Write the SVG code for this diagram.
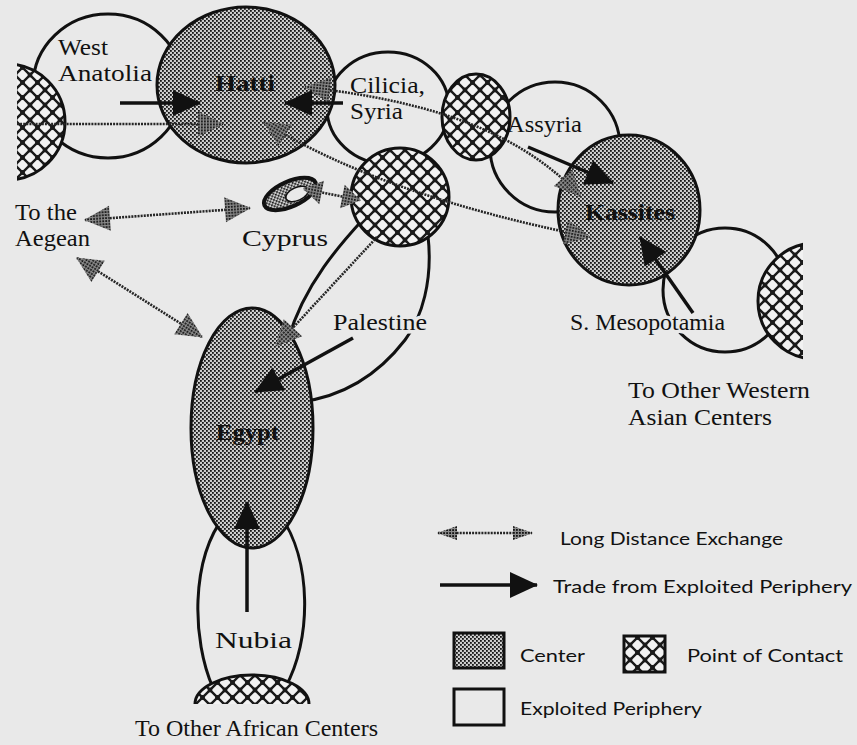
<svg xmlns="http://www.w3.org/2000/svg" width="857" height="745" viewBox="0 0 857 745">
<defs>
<style>
.per{fill:#e9e9e9;stroke:#111;stroke-width:3}
.ctr{fill:url(#stip);stroke:#111;stroke-width:3}
.con{fill:url(#hatch);stroke:#111;stroke-width:3}
.lbl{font-family:"Liberation Serif","DejaVu Serif",serif;font-size:23px;fill:#111}
.b{font-weight:bold}
.msk{stroke:#e9e9e9;stroke-width:7px;paint-order:stroke;stroke-linejoin:round}
.ld{fill:none;stroke:#262626;stroke-width:2.6;stroke-dasharray:2 1.1}
.tr{fill:none;stroke:#111;stroke-width:3.5}
.leg{font-family:Lato,"Open Sans",sans-serif;font-size:17px;fill:#111}
</style>
<pattern id="stip" width="4" height="4" patternUnits="userSpaceOnUse">
<rect width="4" height="4" fill="#cdcdcd"/>
<rect width="1.8" height="1.8" fill="#161616"/>
<rect x="2" y="2" width="1.8" height="1.8" fill="#161616"/>
</pattern>
<pattern id="stipD" width="3" height="3" patternUnits="userSpaceOnUse">
<rect width="3" height="3" fill="#8a8a8a"/>
<rect width="1.8" height="1.8" fill="#141414"/>
</pattern>
<pattern id="hatch" width="15" height="15" patternUnits="userSpaceOnUse">
<rect width="15" height="15" fill="#f2f2f2"/>
<path d="M0,0 L15,15 M15,0 L0,15" stroke="#1a1a1a" stroke-width="2.4"/>
<circle cx="0" cy="0" r="2.4" fill="#1a1a1a"/>
<circle cx="15" cy="0" r="2.4" fill="#1a1a1a"/>
<circle cx="0" cy="15" r="2.4" fill="#1a1a1a"/>
<circle cx="15" cy="15" r="2.4" fill="#1a1a1a"/>
<circle cx="7.5" cy="7.5" r="2.4" fill="#1a1a1a"/>
</pattern>
<clipPath id="clipL"><rect x="17" y="0" width="300" height="745"/></clipPath>
<clipPath id="clipR"><rect x="600" y="0" width="203" height="745"/></clipPath>
<marker id="tri" markerUnits="userSpaceOnUse" markerWidth="30" markerHeight="28" refX="27" refY="13" orient="auto" overflow="visible">
<path d="M0,0 L28,13 L0,26 Z" fill="#111"/>
</marker>
<marker id="ld" markerUnits="userSpaceOnUse" markerWidth="28" markerHeight="26" refX="25" refY="12.5" orient="auto-start-reverse" overflow="visible">
<path d="M0,0 L26,12.5 L0,25 Z" fill="url(#stipD)"/>
</marker>
<marker id="ldM" markerUnits="userSpaceOnUse" markerWidth="22" markerHeight="26" refX="18" refY="12" orient="auto-start-reverse" overflow="visible">
<path d="M0,0 L19,12 L0,24 Z" fill="url(#stipD)"/>
</marker>
<marker id="ldS" markerUnits="userSpaceOnUse" markerWidth="22" markerHeight="16" refX="19" refY="7" orient="auto-start-reverse" overflow="visible">
<path d="M0,0 L20,7 L0,14 Z" fill="url(#stipD)"/>
</marker>
</defs>
<rect width="857" height="745" fill="#e9e9e9"/>

<g id="west-anatolia">
<ellipse class="per" cx="108" cy="86" rx="75" ry="72"/>
<text class="lbl" x="58" y="55" textLength="50" lengthAdjust="spacingAndGlyphs">West</text>
<text class="lbl" x="58" y="81" textLength="94" lengthAdjust="spacingAndGlyphs">Anatolia</text>
</g>
<g id="cilicia-syria">
<ellipse class="per" cx="388" cy="108" rx="61" ry="56"/>
<text class="lbl" x="350" y="93" textLength="75" lengthAdjust="spacingAndGlyphs">Cilicia,</text>
<text class="lbl" x="350" y="119" textLength="53" lengthAdjust="spacingAndGlyphs">Syria</text>
</g>
<g id="assyria">
<circle class="per" cx="555" cy="147" r="65"/>
<text class="lbl" x="507" y="132" textLength="75" lengthAdjust="spacingAndGlyphs">Assyria</text>
</g>
<g id="s-mesopotamia">
<circle class="per" cx="725" cy="290" r="62"/>
<text class="lbl msk" x="570" y="330" font-size="21" textLength="155" lengthAdjust="spacingAndGlyphs">S. Mesopotamia</text>
</g>
<g id="palestine">
<path class="per" style="fill:none" d="M368,214 C348,236 305,280 288,340 M428,236 C433,280 422,318 405,340 C388,362 355,395 300,402"/>
<text class="lbl msk" x="333" y="330" textLength="94" lengthAdjust="spacingAndGlyphs">Palestine</text>
</g>
<g id="nubia">
<path class="per" d="M213,688 C192,640 190,560 225,515 L280,515 C312,560 312,640 285,688 Z"/>
<text class="lbl" x="215" y="648" font-size="24" textLength="77" lengthAdjust="spacingAndGlyphs">Nubia</text>
</g>

<g id="hatti">
<ellipse class="ctr" cx="246" cy="85" rx="89" ry="78"/>
<text class="lbl b" x="215" y="91" textLength="60" lengthAdjust="spacingAndGlyphs">Hatti</text>
</g>
<g id="kassites">
<ellipse class="ctr" cx="629" cy="210" rx="71" ry="75"/>
<text class="lbl b" x="585" y="220" textLength="90" lengthAdjust="spacingAndGlyphs">Kassites</text>
</g>
<g id="egypt">
<ellipse class="ctr" cx="252" cy="428" rx="61" ry="120"/>
<text class="lbl b" x="216" y="440" textLength="63" lengthAdjust="spacingAndGlyphs">Egypt</text>
</g>
<g id="cyprus">
<ellipse cx="290" cy="194" rx="28" ry="12.5" transform="rotate(-24 290 194)" fill="url(#stip)" stroke="#111" stroke-width="4"/>
<ellipse cx="297" cy="194" rx="12" ry="6.5" transform="rotate(-24 297 194)" fill="#e9e9e9" stroke="#111" stroke-width="1.5"/>
<text class="lbl" x="242" y="246" font-size="24" textLength="86" lengthAdjust="spacingAndGlyphs">Cyprus</text>
</g>

<g id="contact-west">
<circle class="con" cx="7" cy="122" r="58" clip-path="url(#clipL)"/>
</g>
<g id="contact-north-syria">
<ellipse class="con" cx="476" cy="117" rx="34" ry="43"/>
</g>
<g id="contact-levant">
<circle class="con" cx="400" cy="197" r="49"/>
</g>
<g id="contact-east">
<circle class="con" cx="816" cy="301" r="58" clip-path="url(#clipR)"/>
</g>
<g id="contact-africa">
<path d="M195,704 A57,29 0 0 1 309,704 Z" fill="url(#hatch)"/>
<path d="M195,704 A57,29 0 0 1 309,704" fill="none" stroke="#111" stroke-width="3"/>
</g>

<g id="aegean">
<text class="lbl" x="15" y="220" textLength="62" lengthAdjust="spacingAndGlyphs">To the</text>
<text class="lbl" x="15" y="246" textLength="75" lengthAdjust="spacingAndGlyphs">Aegean</text>
</g>
<g id="western-asian-centers">
<text class="lbl" x="628" y="398" textLength="182" lengthAdjust="spacingAndGlyphs">To Other Western</text>
<text class="lbl" x="628" y="425" textLength="144" lengthAdjust="spacingAndGlyphs">Asian Centers</text>
</g>
<g id="african-centers">
<text class="lbl" x="135" y="736" font-size="21" textLength="243" lengthAdjust="spacingAndGlyphs">To Other African Centers</text>
</g>

<g id="connectors">
<path class="ld" d="M17,124 L223,124" marker-end="url(#ld)"/>
<path class="ld" d="M305,87 C400,98 510,120 580,196" marker-start="url(#ld)" marker-end="url(#ld)"/>
<path class="ld" d="M264,122 Q380,195 590,237" marker-start="url(#ld)" marker-end="url(#ld)"/>
<path class="ld" d="M85,220 L250,208" marker-start="url(#ld)" marker-end="url(#ld)"/>
<path class="ld" d="M304,189 L360,200" marker-start="url(#ldM)" marker-end="url(#ldM)"/>
<path class="ld" d="M77,258 L202,337" marker-start="url(#ld)" marker-end="url(#ld)"/>
<path class="ld" d="M377,237 L276,346" marker-end="url(#ld)"/>
<path class="tr" d="M120,103 L200,103" marker-end="url(#tri)"/>
<path class="tr" d="M343,103 L285,103" marker-end="url(#tri)"/>
<path class="tr" d="M528,147 L613,183" marker-end="url(#tri)"/>
<path class="tr" d="M693,313 L640,237" marker-end="url(#tri)"/>
<path class="tr" d="M353,338 L255,392" marker-end="url(#tri)"/>
<path class="tr" d="M247,612 L247,502" marker-end="url(#tri)"/>
</g>

<g id="legend">
<path class="ld" d="M438,533 L532,533" marker-start="url(#ldS)" marker-end="url(#ldS)"/>
<text class="leg" x="560" y="545" textLength="223" lengthAdjust="spacingAndGlyphs">Long Distance Exchange</text>
<path class="tr" d="M440,585 L537,585" marker-end="url(#tri)"/>
<text class="leg" x="553" y="593" textLength="299" lengthAdjust="spacingAndGlyphs">Trade from Exploited Periphery</text>
<rect class="ctr" x="454" y="633" width="50" height="35"/>
<text class="leg" x="520" y="662" textLength="65" lengthAdjust="spacingAndGlyphs">Center</text>
<rect class="con" x="624" y="636" width="41" height="36"/>
<text class="leg" x="687" y="662" textLength="156" lengthAdjust="spacingAndGlyphs">Point of Contact</text>
<rect class="per" x="454" y="689" width="50" height="36"/>
<text class="leg" x="520" y="715" textLength="182" lengthAdjust="spacingAndGlyphs">Exploited Periphery</text>
</g>
</svg>
